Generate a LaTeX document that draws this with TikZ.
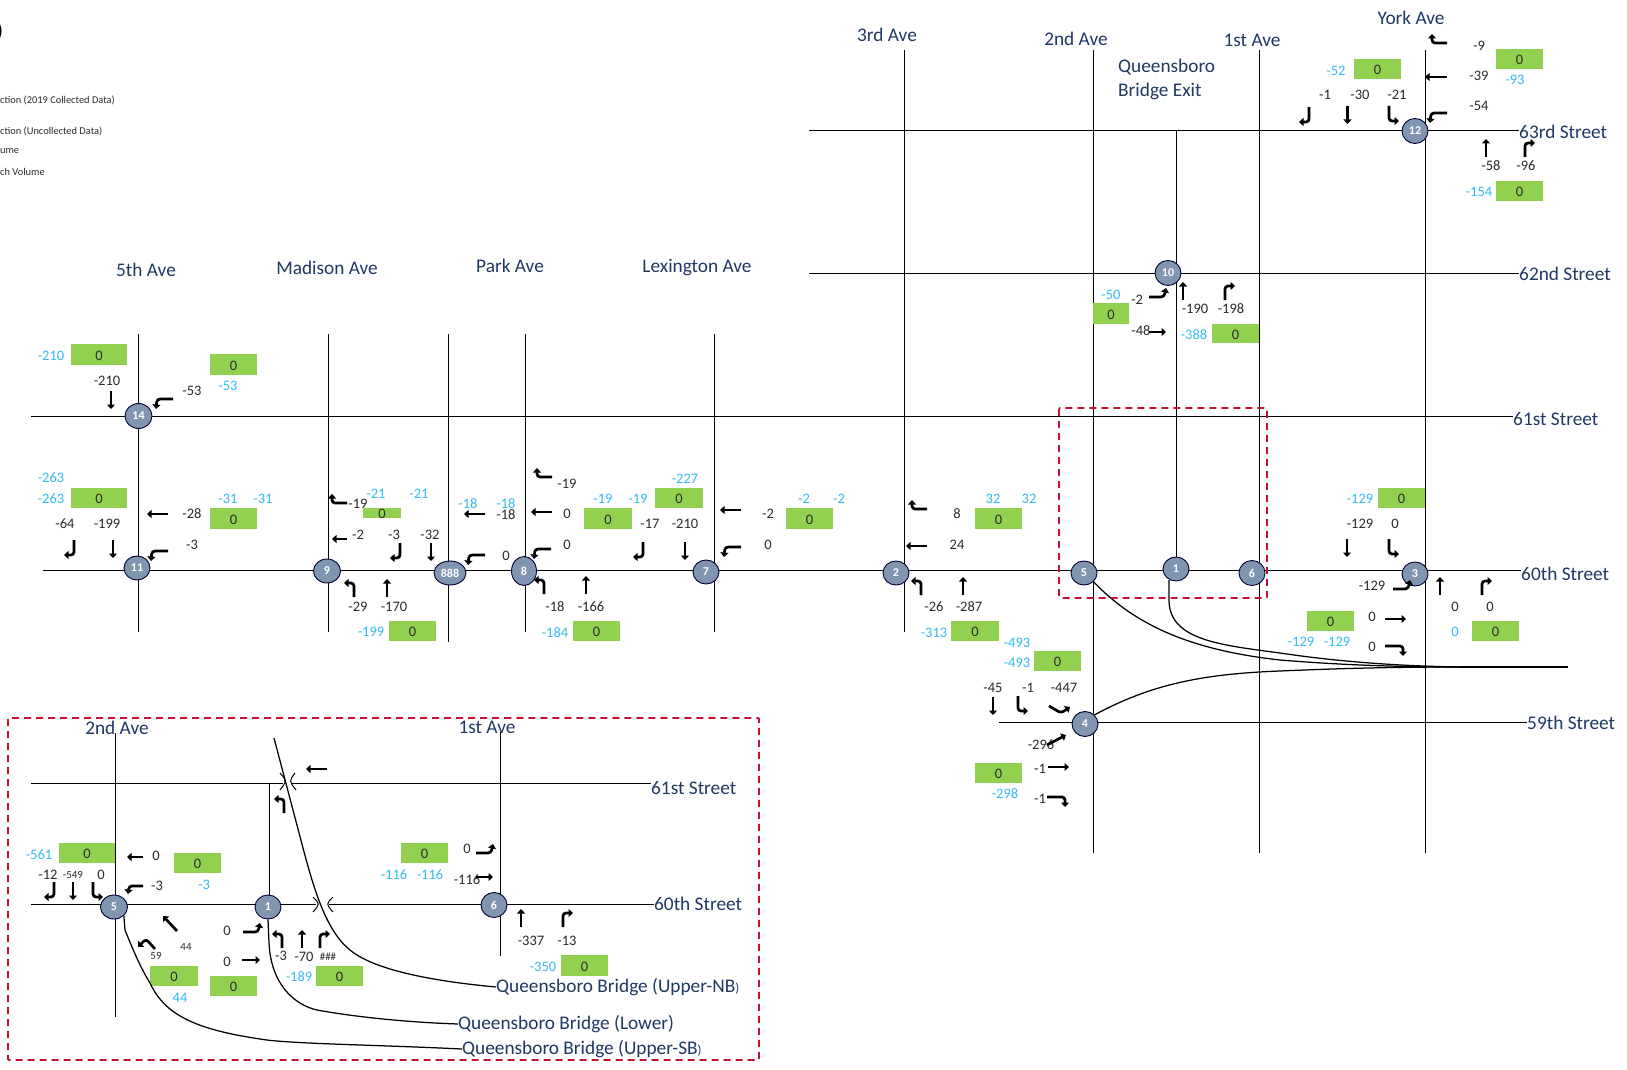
\documentclass[tikz,border=0pt]{standalone}
\usepackage{fontspec}
\setmainfont{Carlito}
\usetikzlibrary{arrows.meta,shapes.geometric}
\definecolor{navy}{HTML}{1F3864}
\definecolor{skyb}{HTML}{33BBF5}
\definecolor{grn}{HTML}{92D050}
\definecolor{jct}{HTML}{8095AF}
\definecolor{redd}{HTML}{C8102E}
\definecolor{ink}{HTML}{2B2B2B}
\tikzset{
 street/.style={line width=1pt,black},
 bridge/.style={line width=1.25pt,black},
 arw/.style={line width=2.7pt,black,rounded corners=3pt,-{Triangle[length=4.5pt,width=8pt]}},
 redbox/.style={draw=redd,line width=1.8pt,dash pattern=on 7pt off 5pt,rounded corners=1pt},
 jnode/.style={ellipse,draw=black!80!blue,line width=.9pt,fill=jct,inner sep=0pt,text=white,font=\fontsize{12}{12}\bfseries\selectfont},
 ttl/.style={text=navy,inner sep=0pt,yshift=-1pt,font=\fontsize{19.3}{20}\selectfont},
 blk/.style={text=ink,inner sep=0pt,yshift=-1pt,font=\fontsize{14.5}{15}\selectfont},
 blu/.style={text=skyb,inner sep=0pt,yshift=-1pt,font=\fontsize{14.5}{15}\selectfont},
 sml/.style={text=ink,inner sep=0pt,yshift=-1pt,font=\fontsize{11}{12}\selectfont},
 lgd/.style={text=ink,inner sep=0pt,anchor=west,yshift=-1.5pt,font=\fontsize{10.4}{11}\selectfont},
 gbx/.style={fill=grn,draw=none}
}
\newcount\lc
\newcommand\kl[3]{\global\advance\lc by 1 \node[blk] (t\the\lc) at (#1,#2) {#3};}
\newcommand\bl[3]{\global\advance\lc by 1 \node[blu] (t\the\lc) at (#1,#2) {#3};}
\newcommand\sml[3]{\global\advance\lc by 1 \node[sml] (t\the\lc) at (#1,#2) {#3};}
\newcommand\gb[4]{\global\advance\lc by 1 \fill[gbx] (#1,#2) rectangle (#3,#4);\node[blk] (t\the\lc) at ({(#1+#3)/2},{(#2+#4)/2}) {0};}
\newcommand\aD[2]{\draw[arw] (#1,#2) -- ++(0,18);}
\newcommand\aU[2]{\draw[arw] (#1,#2) -- ++(0,-18);}
\newcommand\aL[3]{\draw[arw] (#1,#2) -- ++(-#3,0);}
\newcommand\aR[3]{\draw[arw] (#1,#2) -- ++(#3,0);}
\newcommand\aLD[2]{\draw[arw] (#1,#2) -- ++(-16,0) -- ++(-1,10);}
\newcommand\aLU[2]{\draw[arw] (#1,#2) -- ++(-15,0) -- ++(0,-9);}
\newcommand\aDL[2]{\draw[arw] (#1,#2) -- ++(0,15) -- ++(-10,0);}
\newcommand\aDR[2]{\draw[arw] (#1,#2) -- ++(0,15) -- ++(10,0);}
\newcommand\aUL[2]{\draw[arw] (#1,#2) -- ++(0,-14) -- ++(-10,0);}
\newcommand\aUR[2]{\draw[arw] (#1,#2) -- ++(0,-14) -- ++(10,0);}
\newcommand\aRU[2]{\draw[arw] (#1,#2) -- ++(15,0) -- ++(2,-9);}
\newcommand\aRD[2]{\draw[arw] (#1,#2) -- ++(18,0) -- ++(0,10);}
\newcommand\jn[4]{\node[jnode,minimum width=#3pt,minimum height=#4pt] at (#1,#2)}
\begin{document}
\begin{tikzpicture}[x=1pt,y=-1pt]
\useasboundingbox (0,0) rectangle (1627,1070);
\fill[white] (0,0) rectangle (1627,1070);
% street labels
\node[ttl,anchor=west] (s63) at (1519,131) {63rd Street};
\node[ttl,anchor=west] (s62) at (1519,273) {62nd Street};
\node[ttl,anchor=west] (s61) at (1513,418) {61st Street};
\node[ttl,anchor=west] (s60) at (1521,573) {60th Street};
\node[ttl,anchor=west] (s59) at (1527,722) {59th Street};
\node[ttl] (a5) at (146,269) {5th Ave};
\node[ttl] (am) at (327,267) {Madison Ave};
\node[ttl] (ap) at (510,265) {Park Ave};
\node[ttl] (al) at (697,267) {Lexington Ave};
\node[ttl] (a3) at (887,34) {3rd Ave};
\node[ttl] (a2) at (1076,38) {2nd Ave};
\node[ttl] (a1) at (1252,39) {1st Ave};
\node[ttl] (ay) at (1411,17) {York Ave};
\node[ttl,anchor=west] (qe1) at (1118,66) {Queensboro};
\node[ttl,anchor=west] (qe2) at (1118,90) {Bridge Exit};
% legend remnants
\node[text=black,inner sep=0pt,anchor=east,font=\fontsize{20}{20}\bfseries\selectfont] (lg0) at (3,32) {)};
\node[lgd] (lg1) at (0,99) {ction (2019 Collected Data)};
\node[lgd] (lg2) at (0,130) {ction (Uncollected Data)};
\node[lgd] (lg3) at (0,150) {ume};
\node[lgd] (lg4) at (0,170) {ch Volume};
% main streets
\coordinate (c63) at (809,131);
\coordinate (c62) at (809,273);
\coordinate (c61) at (31,416);
\coordinate (c60) at (43,570);
\coordinate (c59) at (999,722);
\draw[street] (c63) -- (c63 -| s63.west);
\draw[street] (c62) -- (c62 -| s62.west);
\draw[street] (c61) -- (c61 -| s61.west);
\draw[street] (c60) -- (c60 -| s60.west);
\draw[street] (c59) -- (c59 -| s59.west);
\draw[street] (138,334) -- (138,632);
\draw[street] (328,334) -- (328,632);
\draw[street] (448.5,334) -- (448.5,642);
\draw[street] (525,334) -- (525,632);
\draw[street] (714,334) -- (714,632);
\draw[street] (904,50) -- (904,632);
\draw[street] (1093,50) -- (1093,853);
\draw[street] (1176,131) -- (1176,570);
\draw[street] (1259,50) -- (1259,853);
\draw[street] (1425,50) -- (1425,853);
% junctions
\jn{138.5}{416}{27}{25} (n14) {14};
\jn{137}{568}{26}{24} (n11) {11};
\jn{327}{571}{27}{24} (n9) {9};
\jn{450}{573}{32}{24} (n888) {888};
\jn{524}{571}{25}{29} (n8) {8};
\jn{706}{572}{26}{24} (n7) {7};
\jn{896}{573}{26}{24} (n2) {2};
\jn{1084}{573}{26}{24} (n5) {5};
\jn{1176}{569}{26}{24} (n1) {1};
\jn{1252}{573}{26}{25} (n6) {6};
\jn{1085}{724}{26}{25} (n4) {4};
\jn{1415}{574}{26}{24} (n3) {3};
\jn{1415}{131}{26}{25} (n12) {12};
\jn{1168}{273}{26}{25} (n10) {10};
% bridge curves
\coordinate (conv) at (1460,667);
\coordinate (bend) at (1568,667);
\draw[bridge] (n5.south east) .. controls (1135,625) and (1190,650) .. (1280,660) .. controls (1340,665) and (1400,667) .. (conv);
\draw[bridge] (1169,580) -- (1169,600) .. controls (1169,640) and (1220,645) .. (1280,653) .. controls (1340,662) and (1400,666) .. (conv);
\draw[bridge] (n4.north east) .. controls (1150,685) and (1200,674) .. (1280,671) .. controls (1350,668) and (1400,667) .. (conv);
\draw[bridge,line width=1.6pt] (conv) -- (bend);
% red boxes
\draw[redbox] (1059,408) rectangle (1267,598);
\draw[redbox] (8,718) rectangle (759,1060);
% green boxes
\gb{71}{344}{127}{365}
\gb{210}{354}{257}{375}
\gb{71}{488}{127}{508}
\gb{210}{508}{257}{529}
\gb{363}{508}{401}{518}
\gb{389}{621}{436}{641}
\gb{584}{508}{632}{529}
\gb{655}{488}{703}{508}
\gb{786}{508}{833}{529}
\gb{573}{621}{620}{641}
\gb{975}{508}{1022}{529}
\gb{951}{621}{999}{641}
\gb{1034}{651}{1081}{671}
\gb{975}{763}{1022}{783}
\gb{1378}{488}{1425}{508}
\gb{1307}{611}{1354}{631}
\gb{1472}{621}{1519}{641}
\gb{1354}{59}{1401}{79}
\gb{1496}{49}{1543}{69}
\gb{1496}{181}{1543}{201}
\gb{1093}{303}{1129}{324}
\gb{1212}{324}{1259}{343}
% labels
\bl{51}{355}{-210}\bl{228}{385}{-53}\bl{51}{477}{-263}\bl{51}{498}{-263}\bl{228}{498}{-31}\bl{263}{498}{-31}
\bl{376}{493}{-21}\bl{419}{493}{-21}\bl{371}{631}{-199}
\kl{107}{380}{-210}\kl{192}{390}{-53}\kl{65}{523}{-64}\kl{107}{523}{-199}\kl{192}{513}{-28}\kl{192}{544}{-3}
\kl{358}{503}{-19}\kl{358}{534}{-2}\kl{394}{534}{-3}\kl{430}{534}{-32}\kl{358}{606}{-29}\kl{394}{606}{-170}
\bl{468}{503}{-18}\bl{506}{503}{-18}\bl{603}{498}{-19}\bl{638}{498}{-19}\bl{685}{478}{-227}\bl{804}{498}{-2}\bl{839}{498}{-2}\bl{555}{632}{-184}
\kl{506}{514}{-18}\kl{567}{483}{-19}\kl{567}{513}{0}\kl{567}{544}{0}\kl{506}{555}{0}\kl{650}{523}{-17}\kl{685}{523}{-210}\kl{768}{513}{-2}\kl{768}{544}{0}\kl{555}{606}{-18}\kl{591}{606}{-166}
\bl{993}{498}{32}\bl{1029}{498}{32}\bl{934}{632}{-313}\bl{1017}{642}{-493}\bl{1017}{662}{-493}\bl{1005}{793}{-298}
\kl{957}{513}{8}\kl{957}{544}{24}\kl{934}{606}{-26}\kl{969}{606}{-287}\kl{993}{687}{-45}\kl{1028}{687}{-1}\kl{1064}{687}{-447}\kl{1041}{744}{-296}\kl{1040}{768}{-1}\kl{1040}{798}{-1}
\bl{1360}{498}{-129}\bl{1301}{641}{-129}\bl{1337}{641}{-129}\bl{1455}{631}{0}
\kl{1360}{523}{-129}\kl{1395}{523}{0}\kl{1372}{585}{-129}\kl{1372}{616}{0}\kl{1372}{646}{0}\kl{1455}{606}{0}\kl{1490}{606}{0}
\kl{1479}{45}{-9}\kl{1479}{75}{-39}\kl{1479}{105}{-54}\kl{1325}{94}{-1}\kl{1360}{94}{-30}\kl{1397}{94}{-21}\kl{1491}{165}{-58}\kl{1526}{165}{-96}
\kl{1137}{299}{-2}\kl{1195}{308}{-190}\kl{1231}{308}{-198}\kl{1141}{330}{-48}
\bl{1336}{70}{-52}\bl{1515}{79}{-93}\bl{1479}{191}{-154}\bl{1111}{294}{-50}\bl{1194}{334}{-388}
% arrows main
\aD{111}{391}\aLD{173}{399}\aL{168}{514}{21}\aDL{74}{540}\aD{113}{540}\aLD{168}{551}
\aLU{347}{503}\aL{347}{539}{15}\aDL{400}{543}\aD{431}{543}\aUL{354}{597}\aU{387}{597}
\aL{485}{514}{21}\aLD{485}{555}\aLU{552}{477}\aL{552}{512}{21}\aLD{551}{549}\aUL{544}{594}\aU{586}{594}\aDL{643}{542}\aD{685}{542}\aL{741}{510}{21}\aLD{741}{547}
\aLU{927}{509}\aL{927}{546}{21}\aUL{921}{595}\aU{963}{595}\aD{993}{697}\aDR{1018}{696}
\draw[arw] (1049,706) -- (1061,713) -- (1070,707);
\draw[arw] (1047,745) -- (1066,735);
\aR{1048}{767}{21}\aRD{1047}{797}
\aD{1347}{539}\aDR{1389}{539}\aRU{1393}{589}\aR{1385}{619}{21}\aRD{1385}{646}\aU{1440}{595}\aUR{1482}{595}
\aLU{1447}{43}\aL{1447}{77}{22}\aLD{1447}{113}\aDL{1309}{107}\aD{1347.5}{106}\aDR{1389}{106}\aU{1486}{157}\aUR{1525}{157}
\aRU{1149}{297}\aU{1183}{300}\aUR{1225}{300}\aR{1149}{332}{17}
% ---- inset ----
\node[ttl,anchor=west] (i61) at (651,787) {61st Street};
\node[ttl,anchor=west] (i60) at (654,903) {60th Street};
\node[ttl] (i2) at (117,727) {2nd Ave};
\node[ttl] (i1) at (487,726) {1st Ave};
\node[ttl,anchor=west] (qnb) at (496,986) {Queensboro Bridge (Upper-NB{\fontsize{13}{13}\selectfont)}};
\node[ttl,anchor=west] (qlo) at (458,1023) {Queensboro Bridge (Lower)};
\node[ttl,anchor=west] (qsb) at (462,1048) {Queensboro Bridge (Upper-SB{\fontsize{13}{13}\selectfont)}};
\coordinate (d61) at (292,783);
\coordinate (d60) at (329,904);
\draw[street] (31,783) -- (283,783);
\draw[street] (d61) -- (d61 -| i61.west);
\draw[street] (31,904) -- (316,904);
\draw[street] (d60) -- (d60 -| i60.west);
\draw[street] (115.5,733) -- (115.5,1017);
\draw[street] (269,783) -- (269,904);
\draw[street] (500,732) -- (500,956);
\draw[street] (280,773) .. controls (287,781) .. (280,790);
\draw[street] (295,773) .. controls (289,781) .. (296,790);
\draw[street] (313,897) .. controls (320,904) .. (313,912);
\draw[street] (333,897) .. controls (326,904) .. (333,912);
\jn{114}{907}{27}{24} (m5) {5};
\jn{268}{907}{26}{24} (m1) {1};
\jn{494}{905}{26}{25} (m6) {6};
\gb{59}{843}{115}{863}
\gb{174}{853}{221}{873}
\gb{150}{966}{198}{986}
\gb{210}{976}{257}{996}
\gb{316}{966}{363}{986}
\gb{401}{843}{448}{863}
\gb{561}{955}{608}{976}
\draw[bridge] (274,738) -- (303,848) .. controls (313,885) and (325,930) .. (350,950) .. controls (368,965) and (410,979) .. (qnb.west);
\draw[bridge] (m1.south) -- (269,943) .. controls (271,985) and (295,1005) .. (317,1010) .. controls (350,1016) and (400,1022) .. (qlo.west);
\draw[bridge] (m5.south east) -- (125,930) .. controls (135,955) and (142,970) .. (150,983) .. controls (165,1015) and (195,1030) .. (267,1040) .. controls (300,1044) and (380,1045) .. (qsb.west);
\bl{39}{854}{-561}\bl{204}{884}{-3}\bl{180}{997}{44}\bl{299}{976}{-189}\bl{394}{874}{-116}\bl{430}{874}{-116}\bl{543}{966}{-350}
\kl{156}{855}{0}\kl{157}{885}{-3}\kl{48}{874}{-12}\sml{73}{874}{-549}\kl{101}{874}{0}\kl{227}{930}{0}\kl{227}{961}{0}\sml{156}{955}{59}\sml{186}{946}{44}\kl{281}{955}{-3}\kl{304}{956}{-70}\sml{328}{956}{\#\#\#}
\kl{467}{848}{0}\kl{467}{879}{-116}\kl{531}{940}{-337}\kl{567}{940}{-13}
\aL{327}{769}{21}\aUL{284}{813}\aL{143}{857}{16}
\draw[arw] (143,886) -- (129,886) -- (128,894);
\aDL{54}{882}\aD{73}{882}\aDR{93}{882}
\draw[arw] (177,931) -- (163,916);
\draw[arw] (155,949) -- (146,939) -- (138,947);
\aRU{243}{932}\aR{242}{960}{18}\aUL{282}{948}\aU{302}{948}\aUR{320}{948}
\aRU{476}{853}\aR{476}{877}{17}\aU{521}{927}\aUR{563}{927}
\end{tikzpicture}
\end{document}
